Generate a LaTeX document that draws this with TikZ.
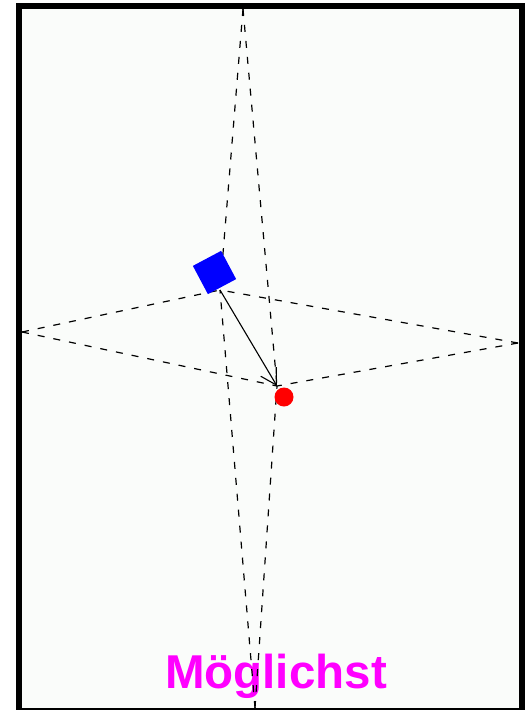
\documentclass[tikz,border=0pt]{standalone}
\usepackage{fontspec}
\setmainfont{Liberation Sans}
\usetikzlibrary{arrows.meta}
\definecolor{paper}{RGB}{250,252,250}
\definecolor{pinktext}{RGB}{255,0,255}
\definecolor{robotblue}{RGB}{0,0,255}
\definecolor{goalred}{RGB}{255,0,0}

\begin{document}
\begin{tikzpicture}[x=1pt,y=-1pt,
	frame/.style={ draw=black, line width=6pt, fill=paper },
	guide/.style={ black, line width=1.2pt, dash pattern=on 7pt off 9pt },
	robot/.style={ rectangle, fill=robotblue, inner sep=0pt, minimum size=32pt, rotate=28 },
	goal/.style={ circle, fill=goalred, inner sep=0pt, minimum size=19pt },
	move/.style={ black, line width=1.1pt, -{Straight Barb[angle=60:18pt]} }
]

\useasboundingbox (0,0) rectangle (527,710);
\draw[frame] (18.5,6) rectangle (521.5,711);

\node at (276,688) (word) [anchor=base, text=pinktext, font=\fontsize{47.5}{50}\selectfont\bfseries] {Möglichst};

\coordinate (a) at (220,290);
\coordinate (b) at (277,386);
\coordinate (top) at (243,9);
\coordinate (left) at (22,332);
\coordinate (right) at (518,343);
\coordinate (bottom) at (255,708);
\foreach \p in {top,left,right,bottom} \draw[guide] (\p) to (a);
\foreach \p in {top,left,right,bottom} \draw[guide] (\p) to (b);

\node at (214.5,272.5) (robot) [robot] {};
\node at (284,397) (target) [goal] {};
\draw[move] (a) to (b);

\end{tikzpicture}
\end{document}
